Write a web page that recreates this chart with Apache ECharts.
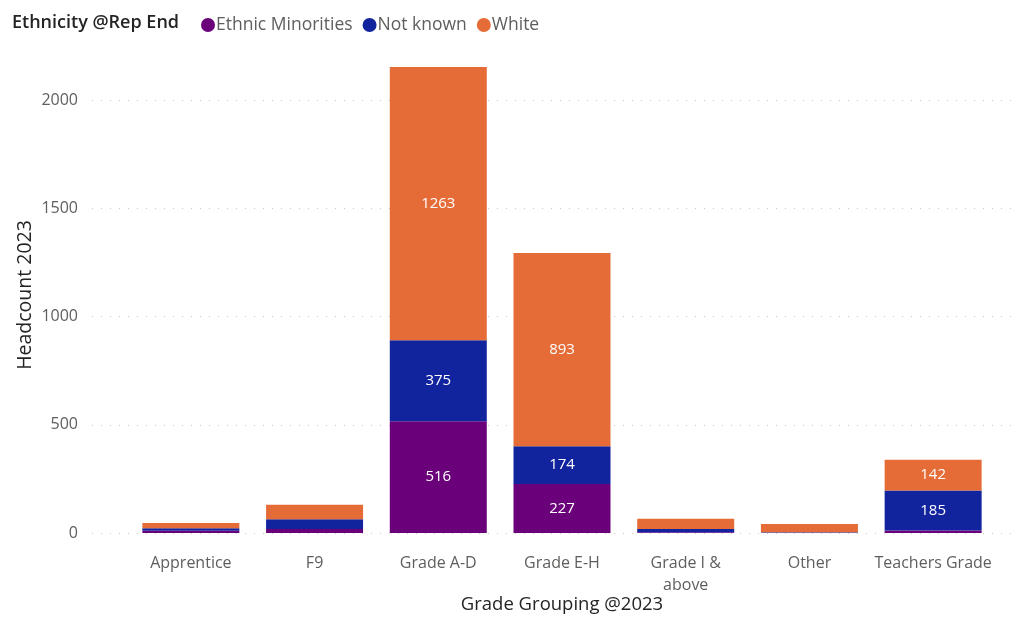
<!DOCTYPE html>
<html>
<head>
<meta charset="utf-8">
<script src="https://cdn.jsdelivr.net/npm/echarts@6/dist/echarts.min.js"></script>
<style>
	html, body { margin: 0; padding: 0; background: #fff; }
	#chart { width: 1018px; height: 619px; }
</style>
</head>
<body>
<div id="chart"></div>
<script>
	// data
	var categories = ['Apprentice', 'F9', 'Grade A-D', 'Grade E-H', 'Grade I &\nabove', 'Other', 'Teachers Grade'];
	var ethnicMinorities = [10, 18, 516, 227, 4, 1, 12];
	var notKnown = [12, 46, 375, 174, 15, 2, 185];
	var white = [24, 66, 1263, 893, 47, 39, 142];
	var yTicks = [0, 500, 1000, 1500, 2000];

	var FONT = '"Open Sans", "DejaVu Sans", sans-serif';
	var yMax = 2200;

	function seg(name, data, color) {
		return {
			name: name,
			type: 'bar',
			stack: 'total',
			xAxisIndex: 1,
			yAxisIndex: 1,
			barCategoryGap: '21.6%',
			data: data,
			itemStyle: { color: color },
			label: {
				show: true,
				position: 'inside',
				color: '#fff',
				fontFamily: FONT,
				fontSize: 15,
				formatter: function(p) {
					return p.value >= 100 ? p.value : '';
				}
			}
		};
	}

	var myChart = echarts.init(document.getElementById('chart'));
	var option = {
		animation: false,
		textStyle: { fontFamily: FONT },
		graphic: [{
			type: 'text',
			left: 12,
			top: 14,
			style: { text: 'Ethnicity @Rep End', font: '600 18px ' + FONT, fill: '#252423' }
		}],
		legend: {
			left: 196,
			top: 11,
			icon: 'circle',
			itemWidth: 14,
			itemHeight: 14,
			itemGap: 10,
			textStyle: { color: '#605E5C', fontSize: 17.5, fontFamily: FONT, padding: [0, 0, 0, -4] },
			data: ['Ethnic Minorities', 'Not known', 'White']
		},
		// grid 0 carries the dotted gridlines across the full width, grid 1 the bars
		grid: [
			{ left: 92, right: 3, top: 57, bottom: 86, outerBoundsMode: 'none', containLabel: false },
			{ left: 129, right: 23, top: 57, bottom: 86, outerBoundsMode: 'none', containLabel: false }
		],
		xAxis: [{
			gridIndex: 0,
			type: 'category',
			data: categories,
			show: false
		}, {
			gridIndex: 1,
			type: 'category',
			data: categories,
			axisLine: { show: false },
			axisTick: { show: false },
			axisLabel: { color: '#605E5C', fontSize: 16, fontFamily: FONT, margin: 19, lineHeight: 22, interval: 0 },
			name: 'Grade Grouping @2023',
			nameLocation: 'middle',
			nameMoveOverlap: false,
			nameGap: 62,
			nameTextStyle: { color: '#252423', fontSize: 18.5, fontFamily: FONT }
		}],
		yAxis: [{
			gridIndex: 0,
			type: 'value',
			min: 0,
			max: yMax,
			interval: 500,
			axisLine: { show: false },
			axisTick: { show: false },
			axisLabel: {
				color: '#605E5C', fontSize: 16, fontFamily: FONT, margin: 14,
				formatter: function(v) { return yTicks.indexOf(v) >= 0 ? v : ''; }
			},
			splitLine: {
				showMaxLine: false,
				lineStyle: { color: '#C8C6C4', type: [1, 8], width: 1 }
			},
			name: 'Headcount 2023',
			nameLocation: 'middle',
			nameMoveOverlap: false,
			nameGap: 57,
			nameTextStyle: { color: '#252423', fontSize: 19.5, fontFamily: FONT }
		}, {
			gridIndex: 1,
			type: 'value',
			min: 0,
			max: yMax,
			interval: 500,
			show: false,
			splitLine: { show: false }
		}],
		series: [
			seg('Ethnic Minorities', ethnicMinorities, '#6B007B'),
			seg('Not known', notKnown, '#12239E'),
			seg('White', white, '#E66C37')
		]
	};
	myChart.setOption(option);
</script>
</body>
</html>
